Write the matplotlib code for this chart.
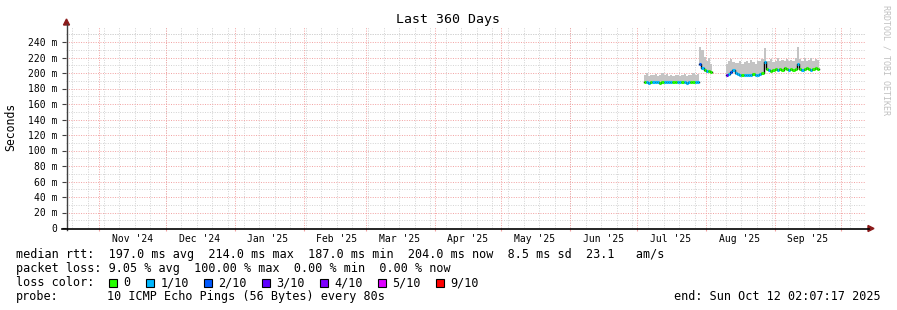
import matplotlib
matplotlib.use('Agg')
import matplotlib.pyplot as plt
import matplotlib.dates as mdates
from matplotlib.patches import Rectangle, Polygon
from datetime import datetime, timedelta

# ---------------- data ----------------
start_time = datetime(2024, 10, 17, 2, 7, 17)
end_time = datetime(2025, 10, 12, 2, 7, 17)

month_starts = ["2024-11-01", "2024-12-01", "2025-01-01", "2025-02-01", "2025-03-01",
                "2025-04-01", "2025-05-01", "2025-06-01", "2025-07-01", "2025-08-01",
                "2025-09-01", "2025-10-01"]
month_labels = ["Nov '24", "Dec '24", "Jan '25", "Feb '25", "Mar '25", "Apr '25",
                "May '25", "Jun '25", "Jul '25", "Aug '25", "Sep '25"]
y_ticks = [0, 20, 40, 60, 80, 100, 120, 140, 160, 180, 200, 220, 240]
y_tick_labels = ["0", "20 m", "40 m", "60 m", "80 m", "100 m", "120 m", "140 m",
                 "160 m", "180 m", "200 m", "220 m", "240 m"]

# segment 1: daily, Jul 4 .. Jul 28 2025 (ms)
seg1_start = "2025-07-04"
seg1_median = [188, 188, 187, 188, 188, 188, 188, 187, 188, 188, 188, 189, 188,
               188, 188, 188, 188, 188, 188, 187, 188, 188, 188, 188, 189]
seg1_max = [197, 200, 196, 198, 197, 199, 196, 197, 200, 198, 199, 196, 197,
            196, 198, 197, 196, 197, 199, 196, 198, 197, 200, 198, 199]
seg1_loss = [0, 1, 1, 0, 1, 1, 1, 0, 0, 1, 1, 1, 1, 0, 0, 1, 1, 0, 1, 1, 1, 0, 0, 1, 1]

# segment 1b: Jul 29 .. Aug 3 2025
seg1b_start = "2025-07-29"
seg1b_median = [212, 207, 204, 202, 202, 201]
seg1b_max = [234, 230, 221, 215, 219, 212]
seg1b_loss = [2, 1, 0, 1, 0, 0]

# segment 2: Aug 10 .. Sep 20 2025
seg2_start = "2025-08-10"
seg2_median = [197, 199, 201, 204, 200,
               199, 198, 198, 198, 197, 198, 198, 199, 198, 198, 199, 200,
               214,
               205, 204, 203, 204, 205, 204, 205, 204, 206, 205, 204, 205, 204, 205,
               211,
               205, 204, 205, 206, 205, 204, 205, 206, 205]
seg2_max = [212, 215, 218, 214, 213,
            213, 216, 212, 214, 215, 213, 217, 214, 212, 216, 215, 218,
            232,
            216, 215, 218, 214, 216, 219, 215, 217, 216, 218, 215, 217, 216, 219,
            233,
            218, 216, 219, 215, 217, 220, 216, 218, 217]
seg2_loss = [3, 1, 2, 1, 1,
             1, 1, 0, 1, 1, 1, 1, 0, 1, 1, 1, 0,
             1,
             0, 1, 0, 0, 0, 1, 0, 0, 0, 0, 1, 0, 0, 0,
             1,
             0, 1, 0, 0, 0, 1, 0, 0, 0]

loss_levels = ["0", "1/10", "2/10", "3/10", "4/10", "5/10", "9/10"]
loss_colors = ["#26ff00", "#00b8ff", "#0059ff", "#5e00ff", "#7e00ff", "#dd00ff", "#ff0000"]

# ---------------- figure ----------------
W, H = 897, 310
fig = plt.figure(figsize=(W / 100, H / 100), dpi=100)
fig.patch.set_facecolor('white')
px0, px1 = 66, 866
pyb, pyt = 228, 26.5
ax = fig.add_axes([px0 / W, 1 - pyb / H, (px1 - px0) / W, (pyb - pyt) / H])
ax.set_facecolor('white')
ax.set_xlim(mdates.date2num(start_time), mdates.date2num(end_time))
ax.set_ylim(0, 260)
for s in ax.spines.values():
    s.set_visible(False)

mono = 'DejaVu Sans Mono'
minor_col = '#d2d2d2'
major_col = '#f2a0a0'
dots = (0, (1, 1.5))

# minor grid: weekly (Sundays) + every 10 m
wk = datetime(2024, 10, 20)
weeks = []
while wk < end_time:
    weeks.append(mdates.date2num(wk))
    wk += timedelta(days=7)
for w in weeks:
    ax.axvline(w, color=minor_col, lw=0.7, ls=dots, zorder=0)
for v in range(10, 260, 20):
    ax.axhline(v, color=minor_col, lw=0.7, ls=dots, zorder=0)
ax.axhline(250, color=minor_col, lw=0.7, ls=dots, zorder=0)
# major grid
mnums = [mdates.date2num(datetime.fromisoformat(m)) for m in month_starts]
for m in mnums:
    ax.axvline(m, color=major_col, lw=0.7, ls=dots, zorder=0.5)
for v in y_ticks[1:]:
    ax.axhline(v, color=major_col, lw=0.7, ls=dots, zorder=0.5)


def draw_segment(start, med, mx, loss):
    d0 = datetime.fromisoformat(start)
    xs = [mdates.date2num(d0 + timedelta(days=i)) for i in range(len(med) + 1)]
    lo = [m - 1 for m in med] + [med[-1] - 1]
    hi = list(mx) + [mx[-1]]
    ax.fill_between(xs, lo, hi, step='post', color='#c4c4c4', lw=0, zorder=2)
    ax.step(xs, list(med) + [med[-1]], where='post', color='black', lw=1.0, zorder=3)
    for i, m in enumerate(med):
        ax.hlines(m, xs[i], xs[i + 1], color=loss_colors[loss[i]], lw=2.2, zorder=4)


draw_segment(seg1_start, seg1_median, seg1_max, seg1_loss)
draw_segment(seg1b_start, seg1b_median, seg1b_max, seg1b_loss)
draw_segment(seg2_start, seg2_median, seg2_max, seg2_loss)

# ticks
ax.set_yticks(y_ticks)
ax.set_yticklabels(y_tick_labels, family=mono, fontsize=7)
ax.tick_params(axis='y', length=3, width=0.8, color='#404040', pad=3)
ax.set_xticks(mnums)
ax.set_xticklabels([])
ax.tick_params(axis='x', which='major', length=2, width=0.8, color=major_col)
lab_pos = [mdates.date2num(datetime.fromisoformat(m) + timedelta(days=15)) for m in month_starts[:-1]]
ax.set_xticks(lab_pos, minor=True)
ax.set_xticklabels(month_labels, minor=True, family=mono, fontsize=7)
ax.tick_params(axis='x', which='minor', length=0, pad=4)
ax.set_ylabel("Seconds", family=mono, fontsize=8.3, labelpad=8)

# axis lines + arrows (in figure pixels)
def fx(x):
    return x / W


def fy(y):
    return 1 - y / H


axc = '#404040'
arrc = '#8b1a1a'
fig.add_artist(plt.Line2D([fx(66.5), fx(66.5)], [fy(230), fy(24)], color=axc, lw=1))
fig.add_artist(plt.Line2D([fx(62), fx(869)], [fy(228.5), fy(228.5)], color='black', lw=1.2))
fig.add_artist(Polygon([[fx(63.5), fy(25)], [fx(69.5), fy(25)], [fx(66.5), fy(19)]],
                       closed=True, color=arrc, transform=fig.transFigure))
fig.add_artist(Polygon([[fx(868), fy(225.5)], [fx(868), fy(231.5)], [fx(874), fy(228.5)]],
                       closed=True, color=arrc, transform=fig.transFigure))

# title
fig.text(fx(448), fy(19), "Last 360 Days", family=mono, fontsize=9.5, ha='center', va='center')
# rrdtool watermark
fig.text(fx(886), fy(5), "RRDTOOL / TOBI OETIKER", family=mono, fontsize=6, color='#c0c0c0',
         rotation=270, ha='center', va='top')

# legend
fs = 8.5
fig.text(fx(16), fy(254.5),
         "median rtt:  197.0 ms avg  214.0 ms max  187.0 ms min  204.0 ms now  8.5 ms sd  23.1   am/s",
         family=mono, fontsize=fs, va='center')
fig.text(fx(16), fy(268.5),
         "packet loss: 9.05 % avg  100.00 % max  0.00 % min  0.00 % now",
         family=mono, fontsize=fs, va='center')
fig.text(fx(16), fy(282.5), "loss color:", family=mono, fontsize=fs, va='center')
box_x = [108.5, 146, 203.5, 262, 320, 378, 436]
for bx, lbl, col in zip(box_x, loss_levels, loss_colors):
    fig.add_artist(Rectangle((fx(bx), fy(286.5)), 8 / W, 8 / H, facecolor=col,
                             edgecolor='black', lw=0.8, transform=fig.transFigure))
    fig.text(fx(bx + 14.5), fy(282.5), lbl, family=mono, fontsize=fs, va='center')
fig.text(fx(16), fy(296.5), "probe:", family=mono, fontsize=fs, va='center')
fig.text(fx(107), fy(296.5), "10 ICMP Echo Pings (56 Bytes) every 80s",
         family=mono, fontsize=fs, va='center')
fig.text(fx(880.5), fy(296.5), "end: Sun Oct 12 02:07:17 2025",
         family=mono, fontsize=fs, va='center', ha='right')

fig.savefig('out.png', dpi=100, facecolor='white')
